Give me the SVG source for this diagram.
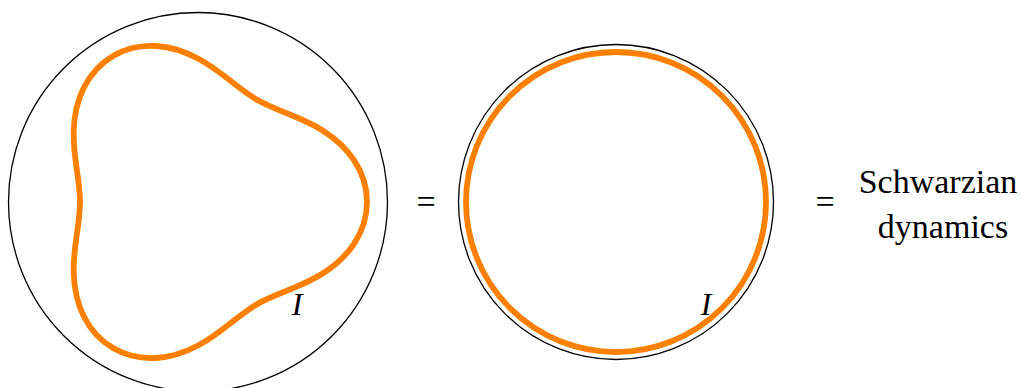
<svg xmlns="http://www.w3.org/2000/svg" xmlns:xlink="http://www.w3.org/1999/xlink" width="1020" height="388" viewBox="0 0 1020 388">
<style>
.bound{fill:none;stroke:#000;stroke-width:1.3}
.orange{fill:none;stroke:#FF8000;stroke-width:5.8;stroke-linecap:round;stroke-linejoin:round}
.txt{font-family:"Liberation Serif","Times New Roman",serif;font-size:34px;fill:#000}
.lbl{font-family:"Liberation Serif","Times New Roman",serif;font-size:32px;font-style:italic;fill:#000}
</style>
<defs>
<path id="third" d="M59,102.19 C67.92,97.04 77.64,93.12 88.72,88.72 C99.80,84.32 112.23,79.26 124.27,71.75 C136.31,64.24 147.81,54.19 156.02,41.80 C164.23,29.41 169,14.75 169,0 C169,-14.75 164.23,-29.41 156.02,-41.80 C147.81,-54.19 136.31,-64.24 124.27,-71.75 C112.23,-79.26 99.80,-84.32 88.72,-88.72 C77.64,-93.12 67.92,-97.04 59,-102.19"/>
</defs>
<rect width="1020" height="388" fill="#fff"/>
<g id="left-disk">
<circle class="bound" cx="198" cy="202" r="189.5"/>
<g transform="translate(198,202)" class="orange">
<use xlink:href="#third"/>
<use xlink:href="#third" transform="rotate(120)"/>
<use xlink:href="#third" transform="rotate(240)"/>
</g>
<text class="lbl" x="297" y="315" text-anchor="middle">I</text>
</g>
<g id="eq1"><text class="txt" x="426" y="213" text-anchor="middle">=</text></g>
<g id="right-disk">
<circle class="bound" cx="616" cy="202" r="157.5"/>
<circle class="orange" cx="616" cy="202" r="150"/>
<text class="lbl" x="706" y="315" text-anchor="middle">I</text>
</g>
<g id="eq2"><text class="txt" x="825" y="213" text-anchor="middle">=</text></g>
<g id="schwarzian">
<text class="txt" x="938" y="193" text-anchor="middle">Schwarzian</text>
<text class="txt" x="943" y="238" text-anchor="middle">dynamics</text>
</g>
<g id="connectors"/>
</svg>
